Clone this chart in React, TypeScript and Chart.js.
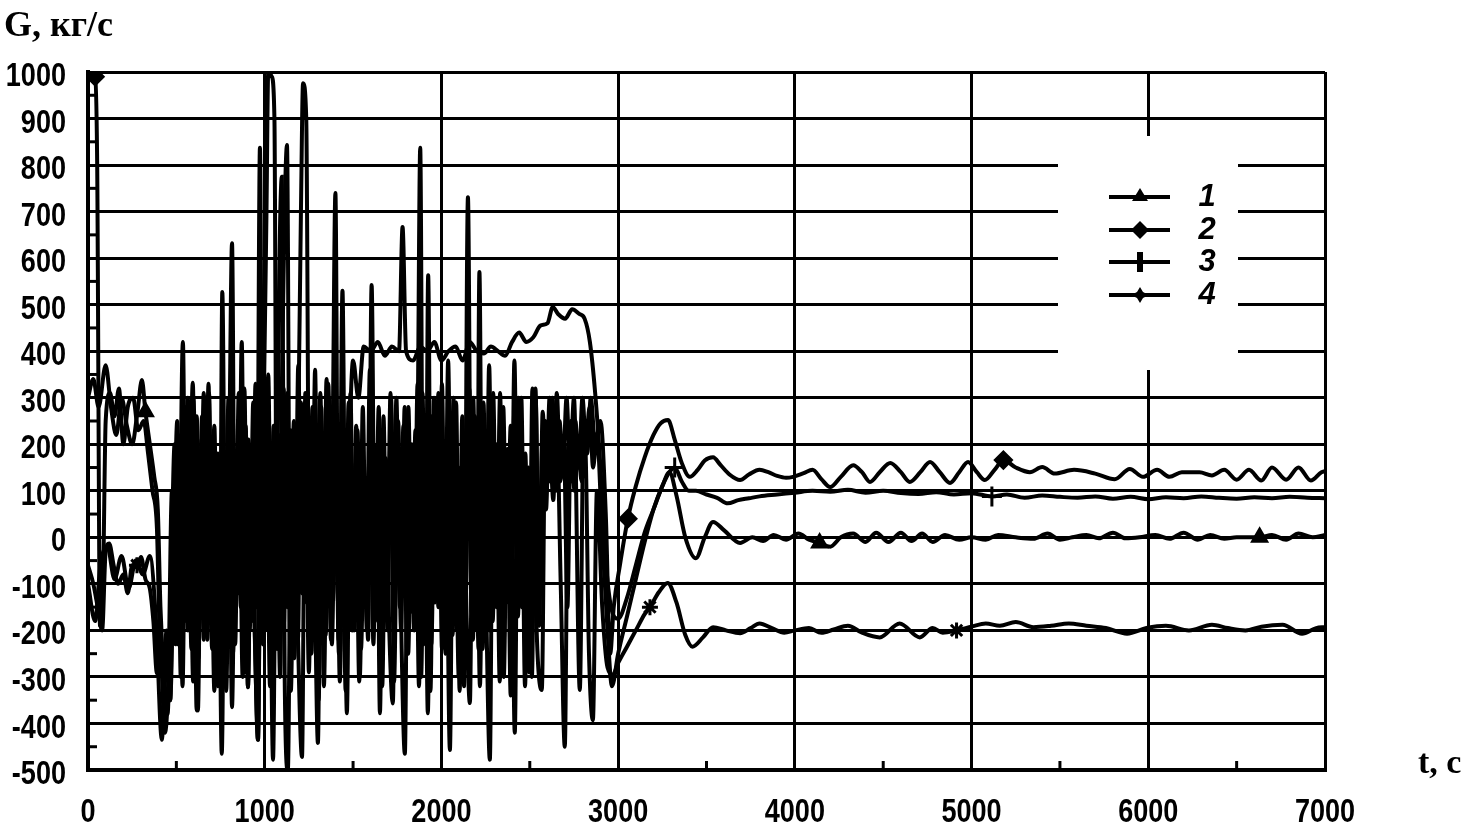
import React, { useEffect, useRef } from 'react';
import { Chart, registerables } from 'chart.js';

Chart.register(...registerables);

// ---------- DATA ----------
const xTickValues = [0, 1000, 2000, 3000, 4000, 5000, 6000, 7000];
const yTickValues = [-500, -400, -300, -200, -100, 0, 100, 200, 300, 400, 500, 600, 700, 800, 900, 1000];
const xMinorTicks = [500, 1500, 2500, 3500, 4500, 5500, 6500];
const yMinorTicks = [-450, -350, -250, -150, -50, 50, 150, 250, 350, 450, 550, 650, 750, 850, 950];
const yTitle = 'G, кг/с';
const xTitle = 't, с';
const legendLabels = ['1', '2', '3', '4'];

// series 1 (triangle) [t, G]
const series1: [number, number][] = [
  [0, 300], [30, 340], [60, 280], [100, 370], [130, 280], [160, 220], [190, 300], [220, 240], [250, 200], [280, 270],
  [305, 338], [325, 270], [350, 200], [375, 130], [395, 60], [410, -150], [430, -300], [450, -380],
  [470, -100], [490, 200], [510, -230], [537, 420], [555, -180], [575, 150], [595, -310], [615, 260], [635, -120], [655, 310],
  [675, -220], [695, 90], [715, -330], [735, 180], [757, -465], [775, 120], [795, -210], [815, 330], [835, -90], [855, 220],
  [875, -300], [895, 60], [915, -200], [935, 290], [955, -150], [973, 837], [990, -230], [1010, 180], [1030, -320], [1050, 240],
  [1065, -160], [1080, 500], [1097, 775], [1113, -300], [1131, -500], [1150, 140], [1170, -200], [1190, 370], [1210, -120], [1230, 210],
  [1250, -290], [1270, 280], [1290, -190], [1310, 100], [1330, -230], [1350, 340], [1370, -150], [1385, 230], [1400, 740], [1418, -220],
  [1438, 180], [1458, -330], [1478, 290], [1498, -110], [1518, 240], [1538, -300], [1558, 130], [1578, -200], [1598, 320], [1618, -160],
  [1635, 200], [1652, -378], [1672, 260], [1692, -140], [1712, 310], [1732, -310], [1752, 120], [1772, -200], [1792, 280], [1812, -250],
  [1832, 200], [1852, -160], [1866, 250], [1880, 837], [1898, -230], [1918, 160], [1938, -330], [1958, 300], [1978, -130], [1998, 220],
  [2018, -230], [2038, 380], [2058, -190], [2078, 110], [2098, -300], [2118, 260], [2138, -120], [2158, 320], [2178, -220], [2198, 180],
  [2218, -320], [2238, 290], [2256, -200], [2274, -478], [2292, 230], [2312, -150], [2332, 310], [2352, -230], [2372, 160], [2392, -340],
  [2412, 270], [2432, -120], [2452, 300], [2472, -210], [2492, 150], [2512, -300], [2532, 320], [2552, -120], [2572, 220], [2592, 60],
  [2612, 300], [2632, 120], [2652, 250], [2675, -100], [2698, -450], [2718, 200], [2738, 120], [2758, 250], [2778, 150], [2798, 300],
  [2818, 200], [2838, 280], [2858, 150], [2880, 220],
  [2910, 0], [2940, -200], [2965, -320], [3000, -250], [3050, -170], [3100, -90], [3150, -10], [3200, 60],
  [3250, 110], [3290, 140], [3330, 90], [3380, 0], [3440, -45], [3490, 0], [3537, 33], [3600, 15], [3690, -12], [3760, 0],
  [3820, -8], [3880, 5], [3950, -5], [4020, 8], [4080, -5], [4140, -12], [4200, -20], [4260, 0], [4330, 8], [4400, -10],
  [4460, 10], [4530, -10], [4600, 10], [4660, -8], [4720, 8], [4780, -10], [4850, 5], [4930, -5], [5000, 0], [5080, -5],
  [5150, 5], [5250, 0], [5350, -3], [5430, 8], [5500, -5], [5570, 0], [5650, 5], [5720, -2], [5800, 10], [5870, -2],
  [5950, 0], [6040, 5], [6120, -3], [6200, 10], [6280, -5], [6350, 5], [6430, -3], [6500, 0], [6630, 0], [6700, 5],
  [6780, -5], [6850, 8], [6930, 0], [7000, 5],
];

// series 2 (diamond)
const series2: [number, number][] = [
  [0, 1000], [40, 990], [52, 800], [68, -190], [85, -100], [100, 250], [125, 310], [150, 260], [175, 320], [200, 200],
  [225, 280], [255, 300], [285, 230], [315, 250], [340, 180], [365, 100], [390, 20], [405, -200], [425, -300], [445, -200],
  [465, -350],
  [485, -50], [505, 250], [525, -300], [545, 120], [565, -200], [593, 332], [615, -372], [635, 180], [655, -220], [675, 290],
  [695, -130], [715, 240], [735, -320], [755, 80], [775, -200], [795, 300], [815, -365], [835, 150], [852, -120], [870, 420],
  [888, -290], [908, 210], [928, -180], [948, 330], [968, -230], [990, 160], [1010, 700], [1020, 1000], [1040, 990], [1055, 900],
  [1070, -240], [1088, 220], [1108, -190], [1128, 310], [1148, -330], [1168, 140], [1188, -220], [1205, 290], [1225, -140], [1245, 230],
  [1265, -250], [1285, 360], [1305, -350], [1325, 180], [1345, -210], [1365, 300], [1385, -130], [1405, 250], [1425, -310], [1445, 150],
  [1465, -378], [1485, 310], [1505, -200], [1525, 230], [1545, -240], [1565, 100], [1585, -220], [1605, 542], [1625, -180], [1645, 280],
  [1665, -320], [1685, 170], [1705, -200], [1725, -357], [1745, 300], [1765, -150], [1785, 240], [1805, -240], [1825, 130], [1845, -200],
  [1865, 330], [1885, -300], [1905, 200], [1923, -378], [1943, 260], [1963, -140], [1983, 310], [2003, -240], [2023, 180], [2048, -457],
  [2068, 300], [2088, -200], [2108, 150], [2128, -320], [2150, 731], [2170, -160], [2190, 260], [2210, -240], [2230, 120], [2250, -210],
  [2270, 370], [2290, -180], [2310, 200], [2330, -310], [2350, 280], [2370, -140], [2392, 240], [2415, -420], [2435, 300], [2455, -150],
  [2475, 180], [2495, -290], [2515, 320], [2535, -150], [2568, -328], [2588, 250], [2608, 120], [2628, 300], [2648, 100], [2668, 250],
  [2688, 150], [2708, 300], [2728, 150], [2750, 300], [2783, -328], [2805, 250], [2825, 180], [2845, 300], [2870, 200],
  [2900, 250], [2930, 50], [2955, -250], [2975, -150], [3010, -60], [3055, 40], [3100, 110], [3150, 172], [3200, 220], [3240, 245],
  [3282, 252], [3320, 210], [3360, 160], [3405, 130], [3450, 145], [3490, 165], [3537, 172], [3580, 155], [3630, 135], [3690, 123],
  [3740, 135], [3800, 145], [3850, 140], [3900, 132], [3950, 128], [3990, 130], [4050, 138], [4100, 145], [4150, 125], [4200, 108],
  [4260, 130], [4330, 155], [4380, 140], [4425, 119], [4480, 140], [4540, 160], [4600, 140], [4650, 119], [4710, 140], [4765, 162],
  [4820, 140], [4878, 117], [4930, 140], [4980, 162], [5030, 140], [5075, 123], [5130, 145], [5180, 166], [5250, 150], [5330, 140],
  [5400, 151], [5470, 137], [5580, 145], [5700, 137], [5810, 125], [5895, 147], [5970, 130], [6050, 145], [6120, 130], [6190, 140],
  [6290, 140], [6360, 133], [6430, 145], [6500, 124], [6570, 145], [6640, 122], [6700, 150], [6780, 124], [6850, 150], [6920, 122],
  [6980, 140], [7000, 142],
];

// series 3 (cross)
const series3: [number, number][] = [
  [0, -100], [40, -180], [70, -60], [110, -20], [150, -90], [190, -40], [230, -110], [270, -50], [310, -80], [350, -40],
  [385, -180], [418, -435], [440, -250], [465, -350],
  [485, 100], [505, -220], [525, 220], [545, -140], [565, 300], [585, -240], [605, 150], [625, -260], [645, 260], [665, -180],
  [685, 310], [705, -220], [725, 120], [745, -250], [760, 527], [780, -200], [800, 280], [820, -250], [845, 180], [865, -150],
  [885, 320], [905, -322], [925, 200], [945, -220], [962, -435], [980, 260], [1000, -190], [1020, 350], [1040, -250], [1060, 170],
  [1080, -200], [1100, 400], [1126, 843], [1145, -250], [1165, 250], [1185, -160], [1211, -472], [1230, 310], [1250, -200], [1270, 190],
  [1285, -140], [1301, -442], [1320, 280], [1340, -190], [1360, 330], [1380, -230], [1400, 160], [1420, -250], [1440, 530], [1460, -220],
  [1480, 200],
  [1500, 380], [1530, 300], [1560, 410], [1600, 400], [1640, 420],
  [1680, 390], [1720, 410], [1760, 400], [1780, 667], [1800, 400], [1840, 380], [1880, 410], [1920, 400], [1960, 420], [2000, 380],
  [2040, 400], [2080, 410], [2120, 380], [2160, 420], [2200, 400], [2240, 395], [2280, 410], [2320, 400], [2360, 390], [2400, 420],
  [2440, 440], [2480, 420], [2520, 430], [2560, 455], [2600, 460], [2630, 495], [2660, 480], [2700, 470], [2740, 490], [2780, 480],
  [2810, 470], [2840, 420], [2870, 310], [2900, 150], [2930, -50], [2960, -150], [3000, -175], [3050, -130], [3100, -60], [3150, 10],
  [3200, 60], [3250, 110], [3290, 140], [3320, 150], [3360, 120], [3400, 100], [3440, 100], [3500, 92], [3560, 85], [3620, 73],
  [3680, 80], [3740, 84], [3800, 88], [3900, 92], [4000, 96], [4100, 100], [4200, 98], [4300, 102], [4400, 96], [4500, 100],
  [4600, 95], [4700, 93], [4800, 97], [4900, 92], [5000, 95], [5115, 88], [5200, 92], [5300, 85], [5400, 90], [5500, 87],
  [5600, 85], [5700, 88], [5800, 83], [5900, 87], [6000, 82], [6100, 86], [6200, 84], [6300, 88], [6400, 85], [6500, 83],
  [6600, 86], [6700, 84], [6800, 87], [6900, 85], [7000, 84],
];

// series 4 (star)
const series4: [number, number][] = [
  [0, -60], [30, -100], [55, -150], [80, -200], [100, -30], [120, -13], [145, -60], [170, -100], [200, -80], [225, -120],
  [250, -60], [277, -60], [300, -42], [325, -90], [350, -110], [370, -180], [390, -292], [410, -250], [435, -420], [455, -300],
  [475, 100], [495, -230], [515, 160], [535, -320], [555, 280], [575, -190], [597, 300], [622, -372], [642, 210], [662, -140],
  [682, 330], [702, -240], [722, 150], [742, -200], [762, 290], [782, -330], [800, 200], [815, 632], [833, -230], [853, 310],
  [873, -170], [893, 240], [905, -322], [925, 130], [945, -230], [962, -435], [982, 300], [1002, -200], [1022, 250], [1047, -478],
  [1067, 180], [1087, -300], [1107, 320], [1127, -150], [1147, 230], [1167, -260], [1187, 150], [1205, 700], [1217, 976], [1235, 900],
  [1255, -240], [1275, 260], [1295, -180], [1315, 310], [1335, -320], [1355, 170], [1375, -220], [1395, 300], [1415, -140], [1435, 230],
  [1455, -250], [1475, 290], [1495, -200], [1515, 160], [1535, -310], [1555, 280], [1575, -150], [1595, 360], [1615, -230], [1635, 190],
  [1655, -300], [1675, 120], [1695, -200], [1715, 300], [1735, -140], [1755, 250], [1775, -240], [1793, -465], [1813, 280], [1833, -160],
  [1853, 230], [1873, -320], [1893, 310], [1910, -200], [1925, 563], [1943, -230], [1963, 200], [1983, -150], [2003, 330], [2023, -250],
  [2043, 140], [2063, -210], [2083, 290], [2103, -330], [2123, 210], [2143, -180], [2161, -356], [2180, 300], [2200, -200], [2215, 570],
  [2233, -240], [2253, 160], [2273, -200], [2293, 310], [2313, -140], [2333, 250], [2353, -300], [2373, 190], [2393, -220], [2413, 380],
  [2433, -170], [2453, 230], [2473, -320], [2493, 120], [2513, -210], [2533, 300], [2553, -190], [2573, 270], [2593, 100], [2613, 200],
  [2633, 80], [2653, 310], [2673, 120], [2693, 200], [2713, -150], [2733, 250], [2753, 100], [2773, 200], [2793, 120], [2813, 200],
  [2835, -250], [2857, -393], [2880, 100], [2910, -150], [2940, -280], [2970, -295], [3000, -270], [3050, -235], [3100, -200], [3150, -165],
  [3180, -150], [3230, -118], [3280, -98], [3330, -140], [3380, -210], [3420, -235], [3480, -215], [3537, -193], [3610, -200], [3690, -206],
  [3750, -195], [3800, -185], [3870, -195], [3940, -205], [4000, -200], [4080, -195], [4150, -205], [4220, -198], [4300, -190], [4380, -205],
  [4480, -215], [4593, -185], [4707, -215], [4780, -195], [4837, -205], [4915, -200], [5000, -192], [5080, -185], [5160, -190], [5250, -182],
  [5350, -193], [5450, -190], [5550, -185], [5650, -190], [5760, -195], [5880, -207], [5990, -195], [6100, -190], [6230, -200], [6360, -188],
  [6450, -195], [6550, -200], [6640, -192], [6760, -188], [6870, -207], [6950, -195], [7000, -193],
];

// times at which markers are drawn
const markers1 = [325, 4140, 6630];
const markers2 = [40, 3055, 5180];
const markers3 = [3320, 5115];
const markers4 = [277, 3180, 4915];

// ---------- helpers ----------
const toXY = (arr: [number, number][]) => arr.map(([x, y]) => ({ x, y }));
const LABEL_FONT = 'bold 33px "Liberation Sans", Arial, sans-serif';
const LABEL_SQUEEZE = 0.82;

function drawMarker(ctx: CanvasRenderingContext2D, kind: number, cx: number, cy: number) {
  ctx.fillStyle = '#000';
  ctx.strokeStyle = '#000';
  ctx.beginPath();
  if (kind === 0) {
    ctx.moveTo(cx, cy - 9); ctx.lineTo(cx + 8, cy + 4); ctx.lineTo(cx - 8, cy + 4); ctx.closePath(); ctx.fill();
  } else if (kind === 1) {
    ctx.moveTo(cx, cy - 9); ctx.lineTo(cx + 9, cy); ctx.lineTo(cx, cy + 9); ctx.lineTo(cx - 9, cy); ctx.closePath(); ctx.fill();
  } else if (kind === 2) {
    ctx.lineWidth = 6; ctx.moveTo(cx, cy - 10); ctx.lineTo(cx, cy + 10); ctx.stroke();
  } else {
    ctx.moveTo(cx, cy - 8); ctx.lineTo(cx + 3, cy - 3); ctx.lineTo(cx + 9, cy); ctx.lineTo(cx + 3, cy + 3);
    ctx.lineTo(cx, cy + 8); ctx.lineTo(cx - 3, cy + 3); ctx.lineTo(cx - 9, cy); ctx.lineTo(cx - 3, cy - 3);
    ctx.closePath(); ctx.fill();
  }
}

const decorPlugin = {
  id: 'decor',
  afterDraw(chart: any) {
    const { ctx } = chart;
    const xs = chart.scales.x;
    const ys = chart.scales.y;
    ctx.save();
    // minor inward ticks
    ctx.strokeStyle = '#000';
    ctx.lineWidth = 3;
    for (const v of yMinorTicks) {
      const py = ys.getPixelForValue(v);
      ctx.beginPath(); ctx.moveTo(xs.left, py); ctx.lineTo(xs.left + 9, py); ctx.stroke();
    }
    for (const t of xMinorTicks) {
      const px = xs.getPixelForValue(t);
      ctx.beginPath(); ctx.moveTo(px, ys.bottom); ctx.lineTo(px, ys.bottom - 9); ctx.stroke();
    }
    // tick labels (condensed bold)
    ctx.fillStyle = '#000';
    ctx.font = LABEL_FONT;
    ctx.textBaseline = 'middle';
    for (const v of yTickValues) {
      const py = ys.getPixelForValue(v);
      ctx.save();
      ctx.translate(ys.right - 22, py + 5);
      ctx.scale(LABEL_SQUEEZE, 1);
      ctx.textAlign = 'right';
      ctx.fillText(String(v), 0, 0);
      ctx.restore();
    }
    for (const t of xTickValues) {
      const px = xs.getPixelForValue(t);
      ctx.save();
      ctx.translate(px, xs.top + 43);
      ctx.scale(LABEL_SQUEEZE, 1);
      ctx.textAlign = 'center';
      ctx.fillText(String(t), 0, 0);
      ctx.restore();
    }
    // legend box
    ctx.fillStyle = '#fff';
    ctx.fillRect(1058, 136, 180, 234);
    const rowsY = [197, 230, 262, 295];
    legendLabels.forEach((lab, i) => {
      const cy = rowsY[i];
      ctx.strokeStyle = '#000';
      ctx.lineWidth = 4;
      ctx.beginPath(); ctx.moveTo(1109, cy); ctx.lineTo(1170, cy); ctx.stroke();
      drawMarker(ctx, i, 1140, cy);
      ctx.fillStyle = '#000';
      ctx.font = 'italic bold 31px "Liberation Sans", sans-serif';
      ctx.textAlign = 'center';
      ctx.textBaseline = 'alphabetic';
      ctx.fillText(lab, 1207, cy + 9);
    });
    // axis titles
    ctx.fillStyle = '#000';
    ctx.textAlign = 'left';
    ctx.textBaseline = 'alphabetic';
    ctx.font = 'bold 36px "Liberation Serif", serif';
    ctx.fillText(yTitle, 4, 36);
    ctx.font = 'bold 34px "Liberation Serif", serif';
    ctx.fillText(xTitle, 1418, 773);
    ctx.restore();
  },
};

export default function App() {
  const ref = useRef<HTMLCanvasElement | null>(null);
  useEffect(() => {
    if (!ref.current) return;
    const mk = (data: [number, number][], style: any, marks: number[], radius: number) => ({
      data: toXY(data),
      borderColor: '#000',
      backgroundColor: '#000',
      borderWidth: 4,
      pointStyle: style,
      pointBorderColor: '#000',
      pointBackgroundColor: '#000',
      pointBorderWidth: 3,
      pointRadius: (c: any) => (c.raw && marks.includes(c.raw.x) ? radius : 0),
      cubicInterpolationMode: 'monotone' as const,
      fill: false,
    });
    const chart = new Chart(ref.current, {
      type: 'line',
      data: {
        datasets: [
          mk(series1, 'triangle', markers1, 8),
          mk(series2, 'rectRot', markers2, 8),
          mk(series3, 'cross', markers3, 10),
          mk(series4, 'star', markers4, 8),
        ],
      },
      options: {
        responsive: false,
        animation: false,
        events: [],
        layout: { padding: { left: 0, top: 72, right: 143, bottom: 0 } },
        plugins: { legend: { display: false }, tooltip: { enabled: false }, title: { display: false } },
        scales: {
          x: {
            type: 'linear',
            min: 0,
            max: 7000,
            afterFit: (s: any) => { s.height = 55; },
            afterBuildTicks: (s: any) => { s.ticks = xTickValues.map((v) => ({ value: v })); },
            ticks: { display: false },
            grid: { color: '#000', lineWidth: 3, drawTicks: false },
            border: { color: '#000', width: 4 },
          },
          y: {
            type: 'linear',
            min: -500,
            max: 1000,
            afterFit: (s: any) => { s.width = 88; },
            afterBuildTicks: (s: any) => { s.ticks = yTickValues.map((v) => ({ value: v })); },
            ticks: { display: false },
            grid: { color: '#000', lineWidth: 3, drawTicks: false },
            border: { color: '#000', width: 4 },
          },
        },
      },
      plugins: [decorPlugin],
    });
    return () => chart.destroy();
  }, []);
  return (
    <div style={{ position: 'fixed', left: 0, top: 0, width: 1468, height: 825, background: '#fff' }}>
      <canvas ref={ref} width={1468} height={825} style={{ width: 1468, height: 825, display: 'block' }} />
    </div>
  );
}
